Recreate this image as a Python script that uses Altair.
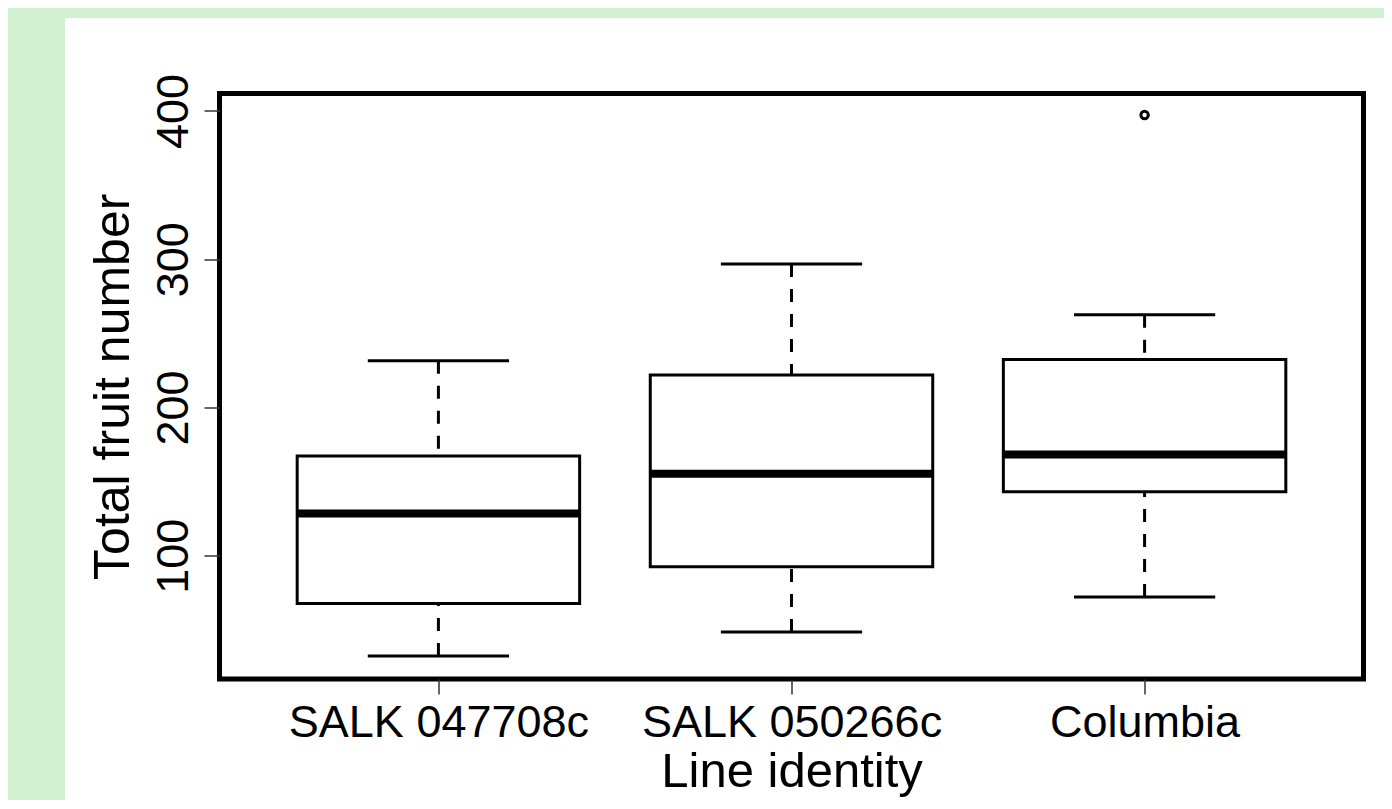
import altair as alt
import pandas as pd

# ---- data ----
lines = ["SALK 047708c", "SALK 050266c", "Columbia"]
positions = [1, 2, 3]
whisker_low = [32.3, 48.5, 72.1]
q1 = [67.8, 92.5, 143.1]
median = [128.5, 155.3, 168.2]
q3 = [167.2, 221.9, 232.4]
whisker_high = [231.5, 296.8, 262.6]
outlier_pos = [3]
outlier_value = [397.3]
y_ticks = [100, 200, 300, 400]

df = pd.DataFrame({
    "line": lines, "pos": positions, "lo": whisker_low, "q1": q1,
    "med": median, "q3": q3, "hi": whisker_high,
})
odf = pd.DataFrame({"pos": outlier_pos, "value": outlier_value})

W, H = 1144, 585.5
FONT = "Liberation Sans"

xs = alt.Scale(domain=[0.38, 3.62], nice=False, zero=False)
ys = alt.Scale(domain=[16.8, 411.8], nice=False, zero=False)

label_expr = "[" + ",".join("'" + l + "'" for l in lines) + "][datum.value - 1]"

x_axis = alt.Axis(
    values=positions, labelExpr=label_expr, title="Line identity",
    domain=False, grid=False, ticks=True, tickSize=15, tickWidth=1.5,
    tickColor="#333333", labelFont=FONT, labelFontSize=45, labelColor="black",
    labelAngle=0, labelAlign="center", labelBaseline="alphabetic",
    labelPadding=42, labelOverlap=False, labelFlush=False, labelLimit=0,
    titleFont=FONT, titleFontSize=49, titleFontWeight="normal", titleColor="black",
    titleX=W / 2, titleY=107, titleAlign="center", titleBaseline="alphabetic",
    titleLimit=0, zindex=1,
)
y_axis = alt.Axis(
    values=y_ticks, title="Total fruit number",
    domain=False, grid=False, ticks=True, tickSize=15.5, tickWidth=1.5,
    tickColor="#333333", labelFont=FONT, labelFontSize=45, labelColor="black",
    labelAngle=270, labelAlign="center", labelBaseline="alphabetic",
    labelPadding=16.5, labelOverlap=False, labelFlush=False, labelLimit=0,
    titleFont=FONT, titleFontSize=50, titleFontWeight="normal", titleColor="black",
    titleAngle=270, titleX=-91.5, titleY=H / 2, titleAlign="center",
    titleBaseline="alphabetic", titleLimit=0, zindex=1,
)


def X(field):
    return alt.X(field + ":Q", scale=xs, axis=x_axis)


def Y(field):
    return alt.Y(field + ":Q", scale=ys, axis=y_axis)


base = alt.Chart(df).transform_calculate(
    left="datum.pos - 0.4", right="datum.pos + 0.4",
    cl="datum.pos - 0.2", cr="datum.pos + 0.2",
)

panel = alt.Chart(alt.Data(values=[{}])).mark_rect(color="white").encode(
    x=alt.value(-154.5), x2=alt.value(1300), y=alt.value(-75.5), y2=alt.value(800)
)

upper = base.mark_rule(color="black", strokeWidth=3, strokeDash=[13, 12]).encode(
    x=X("pos"), y=Y("hi"), y2=alt.Y2("q3:Q")
)
lower = base.mark_rule(color="black", strokeWidth=3, strokeDash=[13, 12]).encode(
    x=X("pos"), y=Y("lo"), y2=alt.Y2("q1:Q")
)
cap_hi = base.mark_rule(color="black", strokeWidth=3).encode(
    x=X("cl"), x2=alt.X2("cr:Q"), y=Y("hi")
)
cap_lo = base.mark_rule(color="black", strokeWidth=3).encode(
    x=X("cl"), x2=alt.X2("cr:Q"), y=Y("lo")
)
box = base.mark_rect(fill="white", stroke="black", strokeWidth=3).encode(
    x=X("left"), x2=alt.X2("right:Q"), y=Y("q3"), y2=alt.Y2("q1:Q")
)
med = base.mark_rule(color="black", strokeWidth=8).encode(
    x=X("left"), x2=alt.X2("right:Q"), y=Y("med")
)
outl = alt.Chart(odf).mark_point(
    shape="circle", filled=False, size=55, strokeWidth=3, color="black", opacity=1
).encode(x=X("pos"), y=Y("value"))

frame = alt.Chart(alt.Data(values=[{}])).mark_rect(
    fillOpacity=0, stroke="black", strokeWidth=5
).encode(x=alt.value(0), x2=alt.value(W), y=alt.value(0), y2=alt.value(H))

chart = alt.layer(
    panel, upper, lower, box, med, cap_hi, cap_lo, outl, frame
).properties(
    width=W, height=H,
    autosize=alt.AutoSizeParams(type="none"),
    padding={"left": 211.5, "top": 85.5, "right": 20.5, "bottom": 121},
    background="#d0f2d0",
).configure_view(strokeWidth=0)

chart.save("out.html", embed_options={"renderer": "svg", "actions": False})
